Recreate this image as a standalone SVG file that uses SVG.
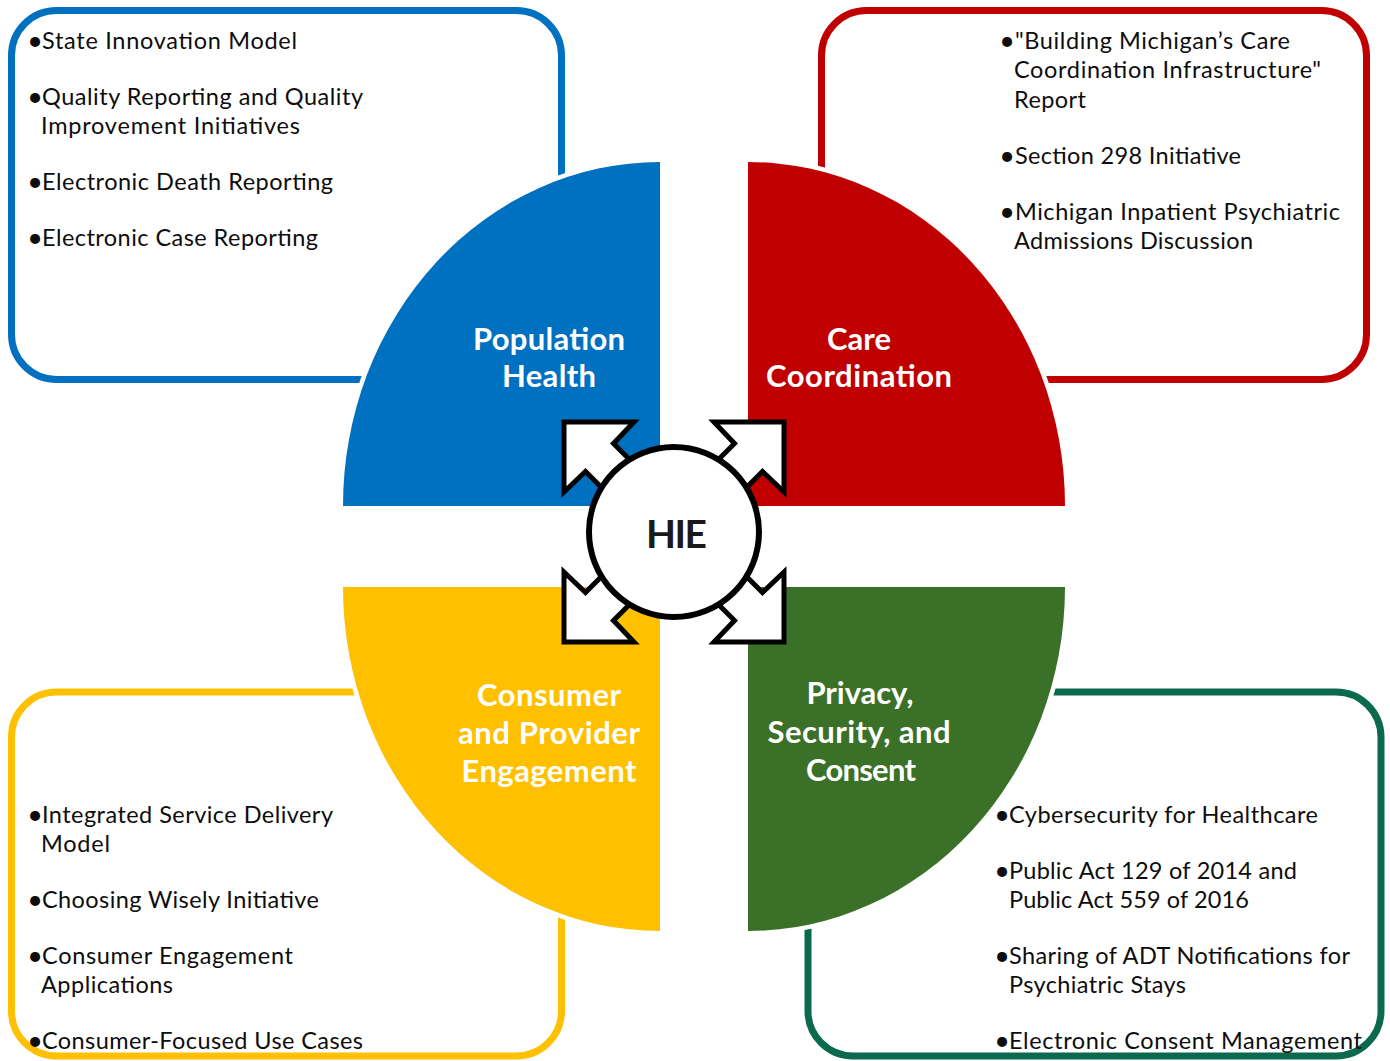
<svg xmlns="http://www.w3.org/2000/svg" width="1390" height="1061" viewBox="0 0 1390 1061">
  <defs>
    <style>
      .box { fill: none; stroke-width: 7; }
      .item { font-family: Lato, "Open Sans", "Liberation Sans", sans-serif; font-size: 23.5px; fill: #0d0d0d; }
      .dot { font-family: Lato, "Open Sans", "Liberation Sans", sans-serif; font-size: 27px; fill: #0d0d0d; text-anchor: middle; }
      .quad { stroke: #ffffff; stroke-width: 9; paint-order: stroke; }
      .qlabel { font-family: Lato, "Open Sans", "Liberation Sans", sans-serif; font-size: 31px; font-weight: 700; fill: #ffffff; text-anchor: middle; }
      .arrow { fill: #ffffff; stroke: #000000; stroke-width: 5; stroke-linejoin: miter; }
      .hub { fill: #ffffff; stroke: #000000; stroke-width: 6; }
      .hubtext { font-family: Lato, "Open Sans", "Liberation Sans", sans-serif; font-size: 39px; font-weight: 700; fill: #1a1a1a; text-anchor: middle; }
    </style>
    <!-- one block arrow, pointing to the lower right, relative to the hub centre -->
    <path id="hubArrow" class="arrow" d="M25,53 L60.5,88.5 L40,110 L110,110 L110,40 L88.5,60.5 L53,25 Z"/>
  </defs>

  <rect width="1390" height="1061" fill="#ffffff"/>

  <!-- Population Health: initiative list -->
  <g id="population-health-list">
    <rect class="box" x="11.5" y="10.5" width="550" height="369" rx="45" stroke="#0070c0"/>
    <text class="dot" x="35" y="50">•</text>
    <text class="item" x="42" y="49" textLength="255">State Innovation Model</text>
    <text class="dot" x="35" y="106">•</text>
    <text class="item" x="42" y="105" textLength="321">Quality Reporting and Quality</text>
    <text class="item" x="41" y="134" textLength="259">Improvement Initiatives</text>
    <text class="dot" x="35" y="191">•</text>
    <text class="item" x="42" y="190" textLength="291">Electronic Death Reporting</text>
    <text class="dot" x="35" y="247">•</text>
    <text class="item" x="42" y="246" textLength="276">Electronic Case Reporting</text>
  </g>

  <!-- Care Coordination: initiative list -->
  <g id="care-coordination-list">
    <rect class="box" x="821.5" y="10.5" width="545" height="369" rx="45" stroke="#c00000"/>
    <text class="dot" x="1007" y="50">•</text>
    <text class="item" x="1015" y="49" textLength="275">"Building Michigan’s Care</text>
    <text class="item" x="1014" y="78" textLength="307">Coordination Infrastructure"</text>
    <text class="item" x="1014" y="108" textLength="72">Report</text>
    <text class="dot" x="1007" y="165">•</text>
    <text class="item" x="1015" y="164" textLength="226">Section 298 Initiative</text>
    <text class="dot" x="1007" y="221">•</text>
    <text class="item" x="1015" y="220" textLength="325">Michigan Inpatient Psychiatric</text>
    <text class="item" x="1014" y="249" textLength="239">Admissions Discussion</text>
  </g>

  <!-- Consumer and Provider Engagement: initiative list -->
  <g id="engagement-list">
    <rect class="box" x="11.5" y="692" width="550" height="364" rx="45" stroke="#ffc000"/>
    <text class="dot" x="35" y="824">•</text>
    <text class="item" x="42" y="823" textLength="291">Integrated Service Delivery</text>
    <text class="item" x="41" y="852" textLength="69">Model</text>
    <text class="dot" x="35" y="909">•</text>
    <text class="item" x="42" y="908" textLength="277">Choosing Wisely Initiative</text>
    <text class="dot" x="35" y="965">•</text>
    <text class="item" x="42" y="964" textLength="251">Consumer Engagement</text>
    <text class="item" x="41" y="993" textLength="132">Applications</text>
    <text class="dot" x="35" y="1050">•</text>
    <text class="item" x="42" y="1049" textLength="321">Consumer-Focused Use Cases</text>
  </g>

  <!-- Privacy, Security, and Consent: initiative list -->
  <g id="privacy-list">
    <rect class="box" x="808" y="692" width="573" height="364" rx="45" stroke="#0b6a4e"/>
    <text class="dot" x="1002" y="824">•</text>
    <text class="item" x="1009" y="823" textLength="309">Cybersecurity for Healthcare</text>
    <text class="dot" x="1002" y="880">•</text>
    <text class="item" x="1009" y="879" textLength="288">Public Act 129 of 2014 and</text>
    <text class="item" x="1009" y="908" textLength="240">Public Act 559 of 2016</text>
    <text class="dot" x="1002" y="965">•</text>
    <text class="item" x="1009" y="964" textLength="341">Sharing of ADT Notifications for</text>
    <text class="item" x="1009" y="993" textLength="177">Psychiatric Stays</text>
    <text class="dot" x="1002" y="1050">•</text>
    <text class="item" x="1009" y="1049" textLength="353">Electronic Consent Management</text>
  </g>

  <!-- quadrants of the wheel -->
  <g id="population-health">
    <path class="quad" fill="#0070c0" d="M660,506 L343,506 A317,344 0 0 1 660,162 Z"/>
    <text class="qlabel" x="549" y="350" textLength="152">Population</text>
    <text class="qlabel" x="549" y="387" textLength="94">Health</text>
  </g>
  <g id="care-coordination">
    <path class="quad" fill="#c00000" d="M748,506 L748,162 A317,344 0 0 1 1065,506 Z"/>
    <text class="qlabel" x="859" y="350" textLength="64">Care</text>
    <text class="qlabel" x="859" y="387" textLength="186">Coordination</text>
  </g>
  <g id="consumer-provider-engagement">
    <path class="quad" fill="#ffc000" d="M660,587 L660,931 A317,344 0 0 1 343,587 Z"/>
    <text class="qlabel" x="549" y="706" textLength="144">Consumer</text>
    <text class="qlabel" x="549" y="744" textLength="182">and Provider</text>
    <text class="qlabel" x="549" y="782" textLength="175">Engagement</text>
  </g>
  <g id="privacy-security-consent">
    <path class="quad" fill="#3a7028" d="M748,587 L1065,587 A317,344 0 0 1 748,931 Z"/>
    <text class="qlabel" x="860" y="704" textLength="107">Privacy,</text>
    <text class="qlabel" x="859" y="743" textLength="183">Security, and</text>
    <text class="qlabel" x="861" y="781" textLength="110">Consent</text>
  </g>

  <!-- hub arrows pointing out to each quadrant -->
  <g id="connectors" transform="translate(674,532)">
    <use href="#hubArrow" transform="scale(-1,-1)"/>
    <use href="#hubArrow" transform="scale(1,-1)"/>
    <use href="#hubArrow" transform="scale(-1,1)"/>
    <use href="#hubArrow"/>
  </g>

  <!-- central hub -->
  <g id="hie">
    <circle class="hub" cx="674" cy="532" r="85"/>
    <text class="hubtext" x="676.5" y="548" textLength="61">HIE</text>
  </g>
</svg>
